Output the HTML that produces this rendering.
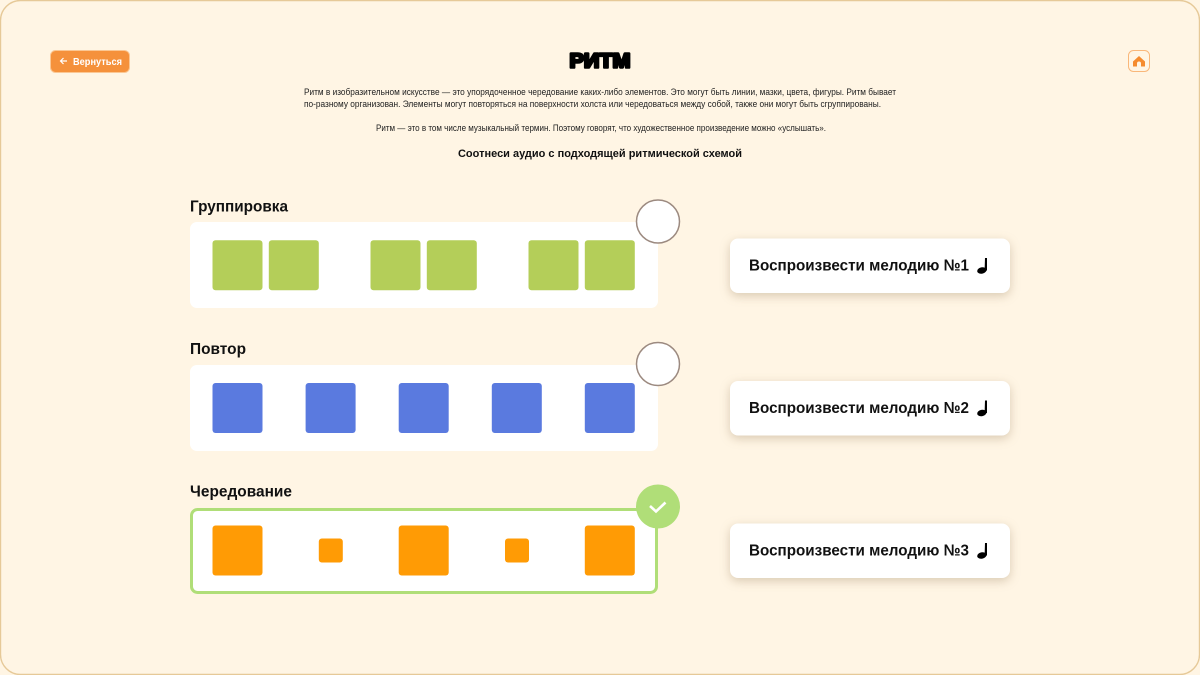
<!DOCTYPE html>
<html lang="ru">
<head>
<meta charset="utf-8">
<title>Ритм</title>
<style>
html,body{margin:0;padding:0;width:1200px;height:675px;background:#fff5e4;overflow:hidden}
svg{display:block}
text{font-family:"Liberation Sans","Noto Sans CJK SC",sans-serif;fill:#111}
.p{font-size:9px;fill:#222}
.l{font-size:15.5px;font-weight:bold}
.b{font-size:16px;font-weight:bold}
.s{filter:drop-shadow(0 3px 5px rgba(120,90,50,.28))}
</style>
</head>
<body>
<svg width="1200" height="675" viewBox="0 0 1200 675" xmlns="http://www.w3.org/2000/svg">
<rect x="0.5" y="0.5" width="1199" height="674" rx="20" fill="#fff5e4" stroke="#e6c998" stroke-width="1.400"/>

<!-- back button -->
<rect x="50.5" y="50.5" width="79" height="22" rx="5" fill="#f5913b" stroke="#fbc793"/>
<path d="M67 61H60.5M63.5 58L60.5 61L63.5 64" fill="none" stroke="#fff" stroke-width="1.2"/>
<text x="73" y="65" font-size="10" font-weight="bold" style="fill:#fff" textLength="49" lengthAdjust="spacingAndGlyphs">Вернуться</text>

<!-- title -->
<text x="569.500" y="67.500" font-size="20" font-weight="bold" stroke="#000" stroke-width="2.600" stroke-linejoin="round" style="fill:#000" textLength="61" lengthAdjust="spacingAndGlyphs">РИТМ</text>

<!-- home -->
<rect x="1128.5" y="50.5" width="21" height="21" rx="5" fill="none" stroke="#f9b77a"/>
<path d="M1139 56L1145 61.500V66.500H1141V63.500A2 2 0 0 0 1137 63.500V66.500H1133V61.500Z" fill="#f58b2e"/>

<!-- paragraph -->
<text class="p" x="304" y="95" textLength="592" lengthAdjust="spacingAndGlyphs">Ритм в изобразительном искусстве — это упорядоченное чередование каких-либо элементов. Это могут быть линии, мазки, цвета, фигуры. Ритм бывает</text>
<text class="p" x="304" y="107" textLength="577" lengthAdjust="spacingAndGlyphs">по-разному организован. Элементы могут повторяться на поверхности холста или чередоваться между собой, также они могут быть сгруппированы.</text>
<text class="p" x="376" y="131" textLength="450" lengthAdjust="spacingAndGlyphs">Ритм — это в том числе музыкальный термин. Поэтому говорят, что художественное произведение можно «услышать».</text>
<text x="458" y="157" font-size="11" font-weight="bold" textLength="284" lengthAdjust="spacingAndGlyphs">Соотнеси аудио с подходящей ритмической схемой</text>

<!-- labels -->
<text class="l" x="190" y="211.500" textLength="98" lengthAdjust="spacingAndGlyphs">Группировка</text>
<text class="l" x="190" y="354" textLength="56" lengthAdjust="spacingAndGlyphs">Повтор</text>
<text class="l" x="190" y="496.500" textLength="102" lengthAdjust="spacingAndGlyphs">Чередование</text>

<!-- cards -->
<rect x="190" y="222" width="468" height="86" rx="7" fill="#fff"/>
<rect x="190" y="365" width="468" height="86" rx="7" fill="#fff"/>
<rect x="191.500" y="509.500" width="465" height="83" rx="6" fill="#fff" stroke="#b0de78" stroke-width="3"/>

<!-- green squares -->
<g fill="#b4ce59">
<rect x="212.500" y="240.300" width="50" height="50" rx="3"/>
<rect x="268.800" y="240.300" width="50" height="50" rx="3"/>
<rect x="370.500" y="240.300" width="50" height="50" rx="3"/>
<rect x="426.800" y="240.300" width="50" height="50" rx="3"/>
<rect x="528.500" y="240.300" width="50" height="50" rx="3"/>
<rect x="584.800" y="240.300" width="50" height="50" rx="3"/>
</g>

<!-- blue squares -->
<g fill="#5a7adf">
<rect x="212.500" y="383" width="50" height="50" rx="3"/>
<rect x="305.600" y="383" width="50" height="50" rx="3"/>
<rect x="398.700" y="383" width="50" height="50" rx="3"/>
<rect x="491.800" y="383" width="50" height="50" rx="3"/>
<rect x="584.800" y="383" width="50" height="50" rx="3"/>
</g>

<!-- orange squares -->
<g fill="#ff9b05">
<rect x="212.500" y="525.500" width="50" height="50" rx="3"/>
<rect x="318.800" y="538.500" width="24" height="24" rx="3"/>
<rect x="398.700" y="525.500" width="50" height="50" rx="3"/>
<rect x="505" y="538.500" width="24" height="24" rx="3"/>
<rect x="584.800" y="525.500" width="50" height="50" rx="3"/>
</g>

<!-- circles -->
<circle cx="658" cy="221.500" r="21.500" fill="#fff" stroke="#9c8a80" stroke-width="1.500"/>
<circle cx="658" cy="364" r="21.500" fill="#fff" stroke="#9c8a80" stroke-width="1.500"/>
<circle cx="658" cy="506.500" r="22" fill="#b0de78"/>
<path d="M650 506L656 511.500L665.500 502.500" fill="none" stroke="#fff" stroke-width="2.600"/>

<!-- play buttons -->
<rect class="s" x="730" y="238.500" width="280" height="54.500" rx="8" fill="#fff"/>
<rect class="s" x="730" y="381" width="280" height="54.500" rx="8" fill="#fff"/>
<rect class="s" x="730" y="523.500" width="280" height="54.500" rx="8" fill="#fff"/>
<text class="b" x="749" y="270.500" textLength="220" lengthAdjust="spacingAndGlyphs">Воспроизвести мелодию №1</text>
<text class="b" x="749" y="413" textLength="220" lengthAdjust="spacingAndGlyphs">Воспроизвести мелодию №2</text>
<text class="b" x="749" y="555.500" textLength="220" lengthAdjust="spacingAndGlyphs">Воспроизвести мелодию №3</text>

<!-- notes -->
<g fill="#000">
<path d="M985 258H987V270.500H984.600Z"/><ellipse cx="981.800" cy="270.500" rx="4.700" ry="3.200" transform="rotate(-12 981.800 270.500)"/>
<path d="M985 400.500H987V413H984.600Z"/><ellipse cx="981.800" cy="413" rx="4.700" ry="3.200" transform="rotate(-12 981.800 413)"/>
<path d="M985 543H987V555.500H984.600Z"/><ellipse cx="981.800" cy="555.500" rx="4.700" ry="3.200" transform="rotate(-12 981.800 555.500)"/>
</g>
</svg>
</body>
</html>
